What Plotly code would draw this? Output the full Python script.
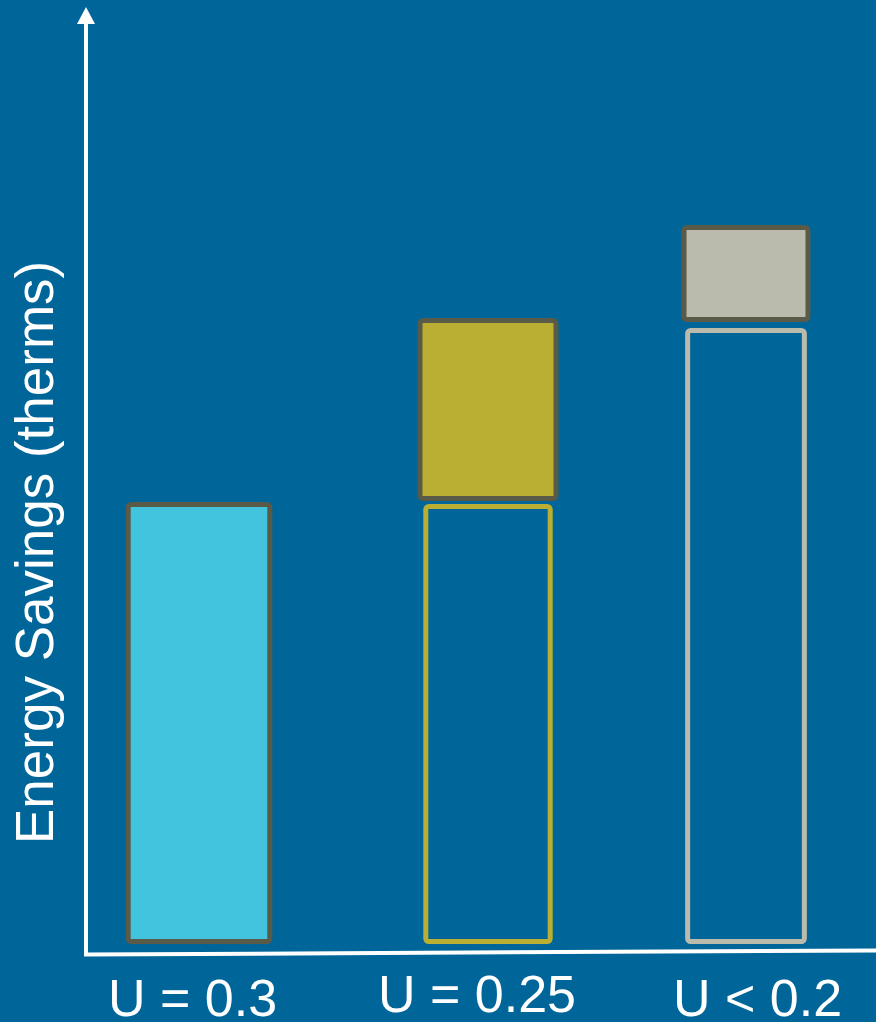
import plotly.graph_objects as go

# ---- data ----
categories = ["U = 0.3", "U = 0.25", "U < 0.2"]
base_savings = [437, 435, 611]          # hollow / baseline bar heights
extra_start = [None, 443, 622]          # filled increment bottoms
extra_end = [None, 621, 714]            # filled increment tops

# ---- style ----
W, H = 876, 1022
BG = "#006699"
BORDER = "#5A5A48"
fill_base = ["#42C3DE", "rgba(0,0,0,0)", "rgba(0,0,0,0)"]
line_base = [BORDER, "#BBAF33", "#BBBBAD"]
fill_extra = [None, "#BBAF33", "#BBBBAD"]
FONT = "Liberation Sans, Arial, sans-serif"

UNIT = 273.5                       # px per category step
Y0 = 941.5                         # pixel row of value 0
shift_px = [0, 15.5, 0]            # horizontal nudge of each group
w_base_px = [141.6, 124.4, 116.7]
w_extra_px = [0, 136, 124]

def off(wpx, spx):
    return [(-w / 2 + s) / UNIT for w, s in zip(wpx, spx)]

fig = go.Figure()
fig.add_trace(go.Bar(
    x=categories, y=base_savings, base=[0, 0, 0],
    width=[w / UNIT for w in w_base_px], offset=off(w_base_px, shift_px),
    marker=dict(color=fill_base, line=dict(color=line_base, width=5), cornerradius=3),
    showlegend=False, hoverinfo="skip",
))
ex_cat = [c for c, s in zip(categories, extra_start) if s is not None]
ex_base = [s for s in extra_start if s is not None]
ex_h = [e - s for s, e in zip(extra_start, extra_end) if s is not None]
ex_w = [w for w, s in zip(w_extra_px, extra_start) if s is not None]
ex_sh = [x for x, s in zip(shift_px, extra_start) if s is not None]
ex_col = [c for c, s in zip(fill_extra, extra_start) if s is not None]
fig.add_trace(go.Bar(
    x=ex_cat, y=ex_h, base=ex_base,
    width=[w / UNIT for w in ex_w], offset=off(ex_w, ex_sh),
    marker=dict(color=ex_col, line=dict(color=BORDER, width=5), cornerradius=3),
    showlegend=False, hoverinfo="skip",
))

def px(x):
    return x / W

def py(y):
    return 1 - y / H

shapes = [
    dict(type="line", xref="paper", yref="paper", x0=px(86), y0=py(956), x1=px(86), y1=py(20),
         line=dict(color="white", width=4)),
    dict(type="path", xref="paper", yref="paper",
         path=f"M {px(77)} {py(24)} L {px(95)} {py(24)} L {px(86)} {py(7)} Z",
         fillcolor="white", line=dict(color="white", width=0)),
    dict(type="line", xref="paper", yref="paper", x0=px(84), y0=py(954.5), x1=px(876), y1=py(950.5),
         line=dict(color="white", width=4)),
]

label_shift = [-7, 4.5, 11]
label_y = [998, 994, 998]
annotations = [
    dict(x=c, y=py(ly), xref="x", yref="paper", xshift=s, text=c, showarrow=False,
         font=dict(family=FONT, size=52, color="white"), xanchor="center", yanchor="middle")
    for c, s, ly in zip(categories, label_shift, label_y)
]
annotations.append(dict(
    x=px(34), y=py(553), xref="paper", yref="paper", text="Energy Savings (therms)",
    textangle=-90, showarrow=False, font=dict(family=FONT, size=53, color="white"),
    xanchor="center", yanchor="middle"))

fig.update_layout(
    width=W, height=H, margin=dict(l=0, r=0, t=0, b=0),
    paper_bgcolor=BG, plot_bgcolor=BG,
    barmode="overlay",
    xaxis=dict(type="category", range=[-199 / UNIT, 2 + (W - 746) / UNIT], visible=False,
               fixedrange=True),
    yaxis=dict(range=[Y0 - H, Y0], visible=False, fixedrange=True),
    shapes=shapes, annotations=annotations,
)

fig.write_html("out.html")
